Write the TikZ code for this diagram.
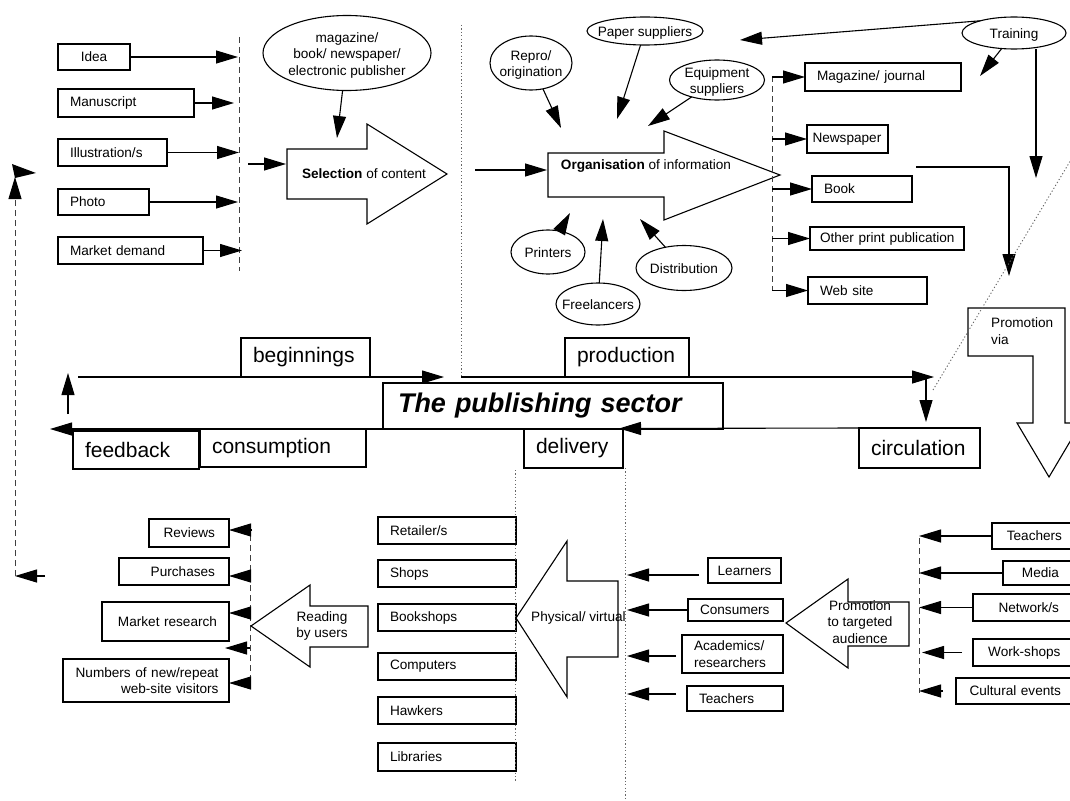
\documentclass[tikz,border=0pt]{standalone}
\usepackage{fontspec}
\setmainfont{Liberation Sans}
\usetikzlibrary{arrows.meta,shapes.geometric,calc}
\newcommand\sm{\fontsize{13.6pt}{16.5pt}\selectfont}
\newcommand\bg{\fontsize{21pt}{25pt}\selectfont}
\newcommand\stk[1]{\raisebox{-6pt}[0pt][0pt]{\makebox[0pt]{\begin{tabular}{@{}c@{}}#1\end{tabular}}}}
\begin{document}
\begin{tikzpicture}[x=1pt,y=-1pt,
  bx/.style={draw, line width=1.1pt, anchor=north west, outer sep=0pt, inner ysep=0pt, font=\sm},
  big/.style={bx, font=\bg},
  ell/.style={draw, ellipse, line width=1.1pt, inner sep=0pt, outer sep=0pt, font=\sm},
  arr/.style={line width=1.1pt, -{Triangle[length=22pt,width=13pt]}},
  dshline/.style={line width=0.9pt, draw=black!75, dash pattern=on 6pt off 4pt},
  dotline/.style={line width=0.9pt, draw=black!60, dash pattern=on 1.2pt off 2.2pt},
  blk/.style={line width=1.1pt, line join=miter},
  lbl/.style={font=\sm, inner sep=0pt, align=center}]
\useasboundingbox (0,0) rectangle (1070,800);
\fill[white] (0,0) rectangle (1070,800);
\clip (0,0) rectangle (1070,800);

% ---------- beginnings: sources of content ----------
\node[bx, text width=48pt, inner xsep=12pt, minimum height=26pt, align=center] (idea) at (58,44) {Idea};
\node[bx, text width=112pt, inner xsep=12pt, minimum height=28pt, align=left] (manu) at (58,89) {Manuscript};
\node[bx, text width=85pt, inner xsep=12pt, minimum height=27pt, align=left] (illu) at (58,139) {Illustration/s};
\node[bx, text width=67pt, inner xsep=12pt, minimum height=26pt, align=left] (photo) at (58,189) {Photo};
\node[bx, text width=121pt, inner xsep=12pt, minimum height=27pt, align=left] (demand) at (58,237) {\mbox{Market demand}};
\draw[dshline] (239,37) -- (239,271);
\coordinate (d1) at (238,57);
\coordinate (d2) at (234,103);
\coordinate (d3) at (239,152.5);
\coordinate (d4) at (238,202);
\coordinate (d5) at (242,250.5);
\draw[arr] (idea.east) -- (d1);
\draw[arr] (manu.east) -- (d2);
\draw[arr] (illu.east) -- (d3);
\draw[arr] (photo.east) -- (d4);
\draw[arr] (demand.east) -- (d5);

% selection arrow
\draw[blk] (287,149) -- (367,149) -- (367,124) -- (447,174) -- (367,224) -- (367,199) -- (287,199) -- cycle;
\node[lbl] (selection) at (364,174) {\textbf{Selection} of content};
\coordinate (selsrc) at (248,164);
\coordinate (selin) at (286,164);
\draw[arr] (selsrc) -- (selin);
\node[ell, minimum width=168pt, minimum height=75pt] (publisher) at (347,53) {\stk{magazine/\\book/ newspaper/\\electronic publisher}};
\coordinate (pubtip) at (337,138);
\draw[arr] (publisher) -- (pubtip);

\draw[dotline] (461,25) -- (461,378);

% ---------- production ----------
\draw[blk] (548,153) -- (664,153) -- (664,131) -- (780,175) -- (664,220) -- (664,197) -- (548,197) -- cycle;
\node[lbl] (organisation) at (646,166) {\textbf{Organisation} of information};
\coordinate (orgsrc) at (475,170);
\coordinate (orgin) at (547,170);
\draw[arr] (orgsrc) -- (orgin);

\node[ell, minimum width=82pt, minimum height=54pt] (repro) at (531,63) {\stk{Repro/\\origination}};
\node[ell, minimum width=116pt, minimum height=28pt] (paper) at (645,31) {\stk{Paper suppliers}};
\node[ell, minimum width=95pt, minimum height=40pt] (equip) at (717,80) {\stk{Equipment\\suppliers}};
\node[ell, minimum width=74pt, minimum height=44pt] (printers) at (548,252) {\stk{Printers}};
\node[ell, minimum width=84pt, minimum height=42pt] (freel) at (598,304) {\stk{Freelancers}};
\node[ell, minimum width=96pt, minimum height=45pt] (distrib) at (684,268) {\stk{Distribution}};
\coordinate (reprotip) at (561,128);
\coordinate (papertip) at (617,119);
\coordinate (equiptip) at (648,126);
\coordinate (printtip) at (570,213);
\coordinate (freetip) at (603,219);
\coordinate (disttip) at (640,219);
\draw[arr] (repro) -- (reprotip);
\draw[arr] (paper) -- (papertip);
\draw[arr] (equip) -- (equiptip);
\draw[arr] (printers) -- (printtip);
\draw[arr] (freel) -- (freetip);
\draw[arr] (distrib) -- (disttip);

% products
\node[bx, text width=132pt, inner xsep=12pt, minimum height=28pt, align=left] (magazine) at (805,63) {Magazine/ journal};
\node[bx, text width=70pt, inner xsep=5.5pt, minimum height=28pt, align=left] (newspaper) at (807,125) {Newspaper};
\node[bx, text width=76pt, inner xsep=12pt, minimum height=26pt, align=left] (book) at (812,176) {Book};
\node[bx, text width=134pt, inner xsep=10pt, minimum height=23pt, align=left] (otherprint) at (810,227) {\mbox{Other print publication}};
\node[bx, text width=95pt, inner xsep=12pt, minimum height=27pt, align=left] (website) at (808,277) {Web site};
\draw[dshline] (772,76) -- (772,290.5);
\coordinate (dashR) at (772,0);
\draw[arr] (magazine.west -| dashR) -- (magazine.west);
\draw[arr] (newspaper.west -| dashR) -- (newspaper.west);
\draw[arr] (book.west -| dashR) -- (book.west);
\draw[arr] (otherprint.west -| dashR) -- (otherprint.west);
\draw[arr] (website.west -| dashR) -- (website.west);

% training and promotion
\node[ell, minimum width=104pt, minimum height=32pt] (training) at (1014,33) {\stk{Training}};
\coordinate (trtipA) at (740,40);
\coordinate (trtipB) at (980,76);
\coordinate (trtipC) at (1036,178);
\draw[arr] (training.160) -- (trtipA);
\draw[arr] (training) -- (trtipB);
\draw[arr] (training.south -| trtipC) -- (trtipC);
\coordinate (bookout) at ($(book.north east)+(4,-9)$);
\coordinate (promtip) at (1009,276);
\draw[arr] (bookout) -| (promtip);
\draw[blk] (968,308) -- (1065,308) -- (1065,423) -- (1081,423) -- (1049,477) -- (1017,423) -- (1033,423) -- (1033,356) -- (968,356) -- cycle;
\node[lbl, anchor=north west, align=left, font=\fontsize{13.6pt}{17.5pt}\selectfont] (promvia) at (991,317) {Promotion\\via};
\draw[dotline] (933,390) -- (1078,148);

% ---------- the cycle ----------
\node[big, text width=105pt, inner xsep=12pt, minimum height=39pt, align=left] (beginnings) at (241,338) {beginnings};
\node[big, text width=100pt, inner xsep=12pt, minimum height=39pt, align=left] (production) at (565,338) {production};
\node[bx, font=\fontsize{27pt}{32pt}\selectfont\bfseries\itshape, text width=310pt, inner xsep=15pt, minimum height=46pt, align=left] (sector) at (383,383) {The publishing sector};
\node[big, text width=102pt, inner xsep=12pt, minimum height=38pt, align=left] (feedback) at (73,431) {feedback};
\node[big, text width=142pt, inner xsep=12pt, minimum height=38pt, align=left] (consumption) at (200,429) {consumption};
\node[big, text width=75pt, inner xsep=12pt, minimum height=39pt, align=left] (delivery) at (524,429) {delivery};
\node[big, text width=97pt, inner xsep=12pt, minimum height=40pt, align=left] (circulation) at (859,428) {circulation};

\coordinate (flowL) at (78,377);
\coordinate (flowM) at (444,377);
\coordinate (flowM2) at (461,377);
\coordinate (flowR) at (934,377);
\draw[arr] (flowL) -- (flowM);
\draw[arr] (flowM2) -- (flowR);
\coordinate (circtop) at (926,377);
\coordinate (circin) at (926,422);
\draw[arr] (circtop) -- (circin);
\coordinate (delivtip) at (619,428.5);
\draw[arr] (circulation.north west) -- (delivtip);
\coordinate (fbtip) at (50,429);
\draw[arr] (sector.south west) -- (fbtip);
\coordinate (upfrom) at (68,414);
\coordinate (upto) at (68,373);
\draw[arr] (upfrom) -- (upto);

% feedback loop on the left
\coordinate (loopS) at (45,576);
\coordinate (loopB) at (15,576);
\coordinate (loopT) at (15,177);
\draw[arr] (loopS) -- (loopB);
\draw[dshline, -{Triangle[length=22pt,width=13pt,black]}] (loopB) -- (loopT);
\fill (12,164) -- (36,173) -- (15,178) -- cycle;

% ---------- consumption ----------
\node[bx, text width=52pt, inner xsep=14pt, minimum height=28pt, align=right] (reviews) at (149,519) {Reviews};
\node[bx, text width=82pt, inner xsep=14pt, minimum height=27pt, align=right] (purchases) at (119,558) {Purchases};
\node[bx, text width=103pt, inner xsep=12pt, minimum height=39pt, align=right] (mresearch) at (102,602) {\mbox{Market research}};
\node[bx, text width=145pt, inner xsep=10.5pt, minimum height=43pt, align=right] (numbers) at (63,659) {\mbox{Numbers of new/repeat}\\web-site visitors};
\draw[dshline] (250,525) -- (250,685);
\coordinate (c1) at (252,530);
\coordinate (c2) at (250,576);
\coordinate (c3) at (250,613);
\coordinate (c4) at (250,648);
\coordinate (c4t) at (225,648);
\coordinate (c5) at (250,683);
\draw[arr] (c1) -- (c1 -| reviews.east);
\draw[arr] (c2) -- (c2 -| purchases.east);
\draw[arr] (c3) -- (c3 -| mresearch.east);
\draw[arr] (c4) -- (c4t);
\draw[arr] (c5) -- (c5 -| numbers.east);
\draw[blk] (251,626) -- (310,585) -- (310,606) -- (368,606) -- (368,647) -- (310,647) -- (310,667) -- cycle;
\node[lbl] (reading) at (322,626) {Reading\\by users};

% ---------- delivery ----------
\node[bx, text width=114pt, inner xsep=12pt, minimum height=27pt, align=left] (retail) at (378,517) {Retailer/s};
\node[bx, text width=114pt, inner xsep=12pt, minimum height=27pt, align=left] (shops) at (378,560) {Shops};
\node[bx, text width=114pt, inner xsep=12pt, minimum height=27pt, align=left] (bookshops) at (378,604) {Bookshops};
\node[bx, text width=114pt, inner xsep=12pt, minimum height=27pt, align=left] (computers) at (378,653) {Computers};
\node[bx, text width=114pt, inner xsep=12pt, minimum height=27pt, align=left] (hawkers) at (378,697) {Hawkers};
\node[bx, text width=114pt, inner xsep=12pt, minimum height=28pt, align=left] (libraries) at (378,743) {Libraries};
\draw[dotline] (515,470) -- (515,782);
\draw[dotline] (625,468) -- (625,800);
\draw[blk] (516,618) -- (567,541) -- (567,581) -- (618,581) -- (618,657) -- (567,657) -- (567,697) -- cycle;
\node[lbl, anchor=west] (physical) at (531,618) {Physical/ virtual};

% audience
\node[bx, text width=60pt, inner xsep=6.5pt, minimum height=25pt, align=center] (learners) at (708,558) {Learners};
\node[bx, text width=71pt, inner xsep=12pt, minimum height=22pt, align=left] (consumers) at (688,599) {Consumers};
\node[bx, text width=77pt, inner xsep=12pt, minimum height=38pt, align=left] (academics) at (682,635) {Academics/\\researchers};
\node[bx, text width=72pt, inner xsep=12pt, minimum height=25pt, align=left] (teachersL) at (687,686) {Teachers};
\coordinate (a1) at (699,575);
\coordinate (a1t) at (627,575);
\coordinate (dashD) at (627,0);
\coordinate (a3) at (676,656);
\coordinate (a3t) at (627,656);
\coordinate (a4) at (676,694);
\coordinate (a4t) at (627,694);
\draw[arr] (a1) -- (a1t);
\draw[arr] (consumers.west) -- (consumers.west -| dashD);
\draw[arr] (a3) -- (a3t);
\draw[arr] (a4) -- (a4t);
\draw[blk] (786,623) -- (848,579) -- (848,602) -- (909,602) -- (909,646) -- (848,646) -- (848,668) -- cycle;
\node[lbl] (promtarget) at (860,622) {Promotion\\to targeted\\audience};

% promotion channels
\node[bx, text width=58pt, inner xsep=12pt, minimum height=26pt, align=right] (teachersR) at (992,523) {Teachers};
\node[bx, text width=41pt, inner xsep=15pt, minimum height=24pt, align=right] (media) at (1003,561) {Media};
\node[bx, text width=71pt, inner xsep=15pt, minimum height=27pt, align=right] (network) at (973,594) {Network/s};
\node[bx, text width=74pt, inner xsep=13.5pt, minimum height=27pt, align=right] (workshops) at (973,639) {\mbox{Work-shops}};
\node[bx, text width=92pt, inner xsep=13pt, minimum height=26pt, align=right] (cultural) at (956,678) {\mbox{Cultural events}};
\draw[dshline] (919,538) -- (919,693);
\coordinate (dashE) at (919,0);
\coordinate (w1) at (962,652.5);
\coordinate (w1t) at (922,652.5);
\coordinate (w2) at (943,691);
\coordinate (w2t) at (919,691);
\draw[arr] (teachersR.west) -- (teachersR.west -| dashE);
\draw[arr] (media.west) -- (media.west -| dashE);
\draw[arr] (network.west) -- (network.west -| dashE);
\draw[arr] (w1) -- (w1t);
\draw[arr] (w2) -- (w2t);
\end{tikzpicture}
\end{document}
